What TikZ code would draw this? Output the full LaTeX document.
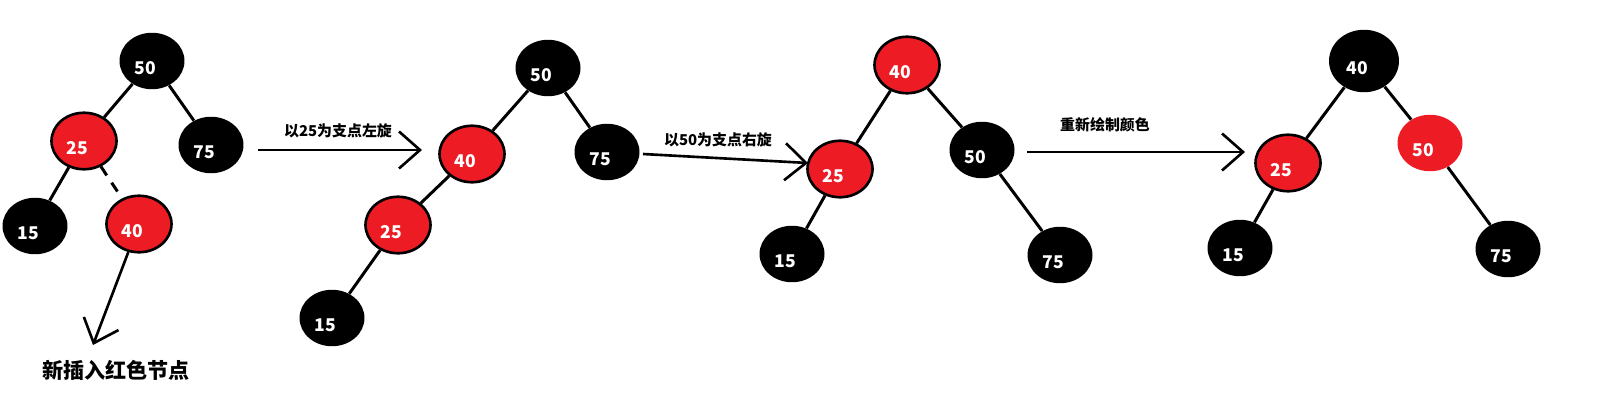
\documentclass[tikz,border=0pt]{standalone}
\usepackage{fontspec}
\newfontfamily\cjk{Noto Sans CJK SC}
\usetikzlibrary{arrows.meta,shapes.geometric}
\definecolor{paintred}{RGB}{237,28,36}

\begin{document}
\begin{tikzpicture}[x=0.02cm, y=-0.02cm,
        rb/.style = {ellipse, minimum width=1.3cm, minimum height=1.13cm, inner sep=0pt},
        blk/.style = {rb, fill=black},
        red/.style = {rb, fill=paintred, draw=black, line width=1.5pt},
        key/.style = {font=\cjk\bfseries\fontsize{10}{10}\selectfont, text=white, xshift=-0.13cm, yshift=-0.14cm},
        link/.style = {line width=1.7pt},
        newlink/.style = {link, dash pattern=on 6pt off 5pt},
        turn/.style = {line width=1.5pt, -{Straight Barb[length=0.42cm, width=0.74cm]}},
        step label/.style = {font=\cjk\bfseries\fontsize{8.5}{8.5}\selectfont}
        ]
        \useasboundingbox (0,0) rectangle (1612,419);

        % insert 40 under 25
        \node[blk] (a50) at (152,61)  [label={[key]center:50}] {};
        \node[red] (a25) at (84,141)  [label={[key]center:25}] {};
        \node[blk] (a75) at (211,145) [label={[key]center:75}] {};
        \node[blk] (a15) at (35,226)  [label={[key]center:15}] {};
        \node[red] (a40) at (139,224) [label={[key]center:40}] {};

        \draw[link] (a50) -- (a25);
        \draw[link] (a50) -- (a75);
        \draw[link] (a25) -- (a15);
        \draw[newlink] (a25) -- (a40);

        \coordinate (pointer) at (93,345);
        \draw[turn] (a40) -- (pointer);
        \node[font=\cjk\bfseries\fontsize{12}{12}\selectfont] (note) at (116,370) {新插入红色节点};

        \coordinate (s1) at (258,150);
        \coordinate (e1) at (422,150);
        \draw[turn] (s1) -- (e1);
        \node[step label] (l1) at (338,131) {以25为支点左旋};

        % after left rotation
        \node[blk] (b50) at (548,68)  [label={[key]center:50}] {};
        \node[red] (b40) at (472,154) [label={[key]center:40}] {};
        \node[blk] (b75) at (607,152) [label={[key]center:75}] {};
        \node[red] (b25) at (398,225) [label={[key]center:25}] {};
        \node[blk] (b15) at (332,318) [label={[key]center:15}] {};

        \draw[link] (b50) -- (b40);
        \draw[link] (b50) -- (b75);
        \draw[link] (b40) -- (b25);
        \draw[link] (b25) -- (b15);

        \coordinate (s2) at (643,154);
        \coordinate (e2) at (808,163);
        \draw[turn] (s2) -- (e2);
        \node[step label] (l2) at (718,140) {以50为支点右旋};

        % after right rotation
        \node[red] (c40) at (907,65)   [label={[key]center:40}] {};
        \node[red] (c25) at (840,169)  [label={[key]center:25}] {};
        \node[blk] (c50) at (982,150)  [label={[key]center:50}] {};
        \node[blk] (c15) at (792,254)  [label={[key]center:15}] {};
        \node[blk] (c75) at (1060,255) [label={[key]center:75}] {};

        \draw[link] (c40) -- (c25);
        \draw[link] (c40) -- (c50);
        \draw[link] (c25) -- (c15);
        \draw[link] (c50) -- (c75);

        \coordinate (s3) at (1027,152);
        \coordinate (e3) at (1245,152);
        \draw[turn] (s3) -- (e3);
        \node[step label] (l3) at (1105,125) {重新绘制颜色};

        % recoloured
        \node[blk, minimum width=1.4cm, minimum height=1.25cm] (d40) at (1364,61) [label={[key]center:40}] {};
        \node[red] (d25) at (1288,163) [label={[key]center:25}] {};
        \node[rb, fill=paintred] (d50) at (1430,143) [label={[key]center:50}] {};
        \node[blk] (d15) at (1240,248) [label={[key]center:15}] {};
        \node[blk] (d75) at (1508,249) [label={[key]center:75}] {};

        \draw[link] (d40) -- (d25);
        \draw[link] (d40) -- (d50);
        \draw[link] (d25) -- (d15);
        \draw[link] (d50) -- (d75);

    \end{tikzpicture}
\end{document}
